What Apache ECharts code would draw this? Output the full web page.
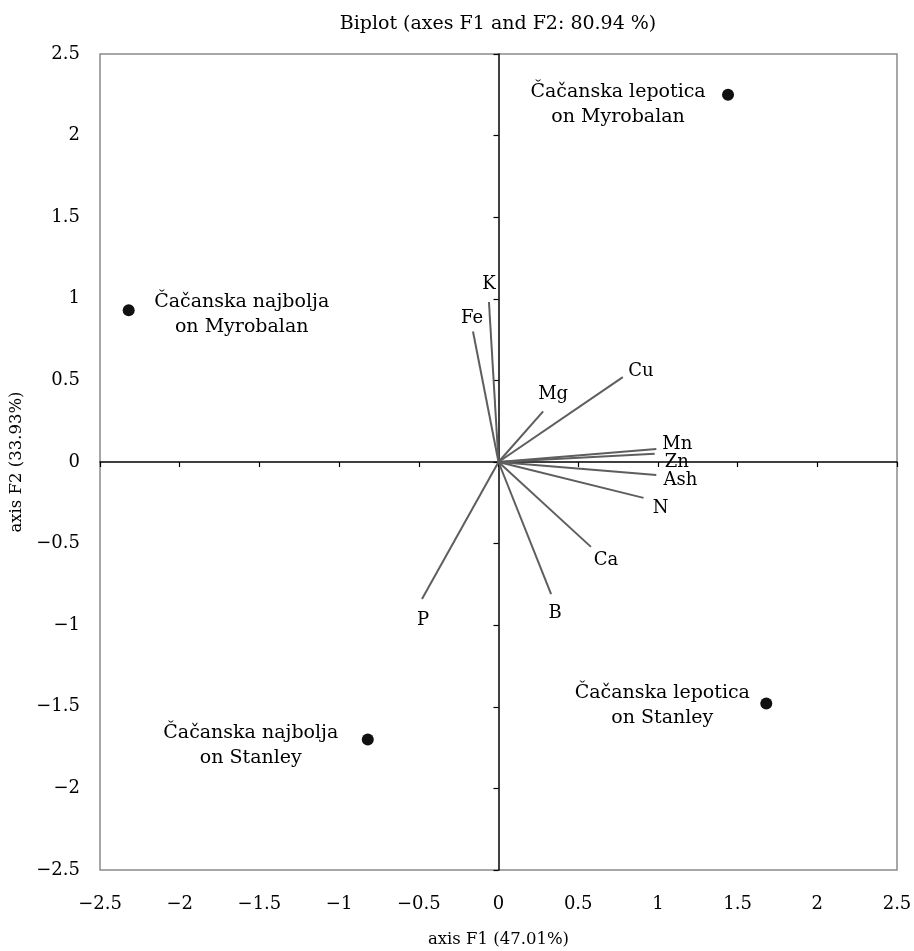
<!DOCTYPE html>
<html><head><meta charset="utf-8">
<script src="https://cdn.jsdelivr.net/npm/echarts@6/dist/echarts.min.js"></script>
<style>html,body{margin:0;padding:0;background:#fff}#c{width:914px;height:951px}</style>
</head><body><div id="c"></div>
<script>
// ---- data ----
const titleText = 'Biplot (axes F1 and F2: 80.94 %)';
const xName = 'axis F1 (47.01%)';
const yName = 'axis F2 (33.93%)';
const axisMin = -2.5, axisMax = 2.5, axisStep = 0.5;

const obsNames = ['Čačanska lepotica\non Myrobalan', 'Čačanska najbolja\non Myrobalan', 'Čačanska najbolja\non Stanley', 'Čačanska lepotica\non Stanley'];
const obsF1 = [1.44, -2.32, -0.82, 1.68];
const obsF2 = [2.25, 0.93, -1.70, -1.48];

const varNames = ['K', 'Fe', 'Cu', 'Mg', 'Mn', 'Zn', 'Ash', 'N', 'P', 'B', 'Ca'];
const varF1 = [-0.06, -0.16, 0.78, 0.28, 0.99, 0.98, 0.99, 0.91, -0.48, 0.33, 0.58];
const varF2 = [0.98, 0.80, 0.52, 0.31, 0.08, 0.05, -0.08, -0.22, -0.84, -0.81, -0.52];

// ---- label placement (styling) ----
const obsLabelOffset = [[-110, 10], [113, 4], [-117, 6], [-104, 2]];
const varLabelOffset = [[0, -18], [-1, -13], [18, -6], [10, -17], [21, -5], [22, 8], [24, 5], [17, 10], [1, 21], [4, 19], [15, 13]];

const FONT = 'DejaVu Serif';
const fmt = v => String(v).replace('-', '\u2212');
const dotSize = 12;

const chart = echarts.init(document.getElementById('c'));

const vecLines = varNames.map((n, i) => ({ coords: [[0, 0], [varF1[i], varF2[i]]] }));
const vecTips = varNames.map((n, i) => ({
  name: n, value: [varF1[i], varF2[i]],
  label: { position: varLabelOffset[i] }
}));
const obsData = obsNames.map((n, i) => ({
  name: n, value: [obsF1[i], obsF2[i]],
  label: { position: [obsLabelOffset[i][0] + dotSize / 2, obsLabelOffset[i][1] + dotSize / 2] }
}));

const valAxisBase = { type: 'value', min: axisMin, max: axisMax, interval: axisStep, splitLine: { show: false } };

chart.setOption({
  animation: false,
  backgroundColor: '#fff',
  title: { text: titleText, left: 493, top: 10, textAlign: 'center',
    textStyle: { fontFamily: FONT, fontSize: 19, fontWeight: 'normal', color: '#000' } },
  grid: { left: 100, right: 17, top: 54, bottom: 81, show: true, borderColor: '#8a8a8a', borderWidth: 1.5,
    backgroundColor: 'transparent', containLabel: false, outerBoundsMode: 'none' },
  xAxis: [
    Object.assign({}, valAxisBase, { position: 'bottom', name: xName, nameLocation: 'middle', nameGap: 61,
      nameTextStyle: { fontFamily: FONT, fontSize: 16.5, color: '#000' },
      axisLine: { show: false, onZero: false }, axisTick: { show: false },
      axisLabel: { margin: 25, fontFamily: FONT, fontSize: 18, color: '#000', formatter: fmt } }),
    Object.assign({}, valAxisBase, { position: 'bottom',
      axisLine: { show: true, onZero: true, onZeroAxisIndex: 0, lineStyle: { color: '#000', width: 1.5 } },
      axisTick: { show: true, length: 5, lineStyle: { color: '#000', width: 1.2 } },
      axisLabel: { show: false } })
  ],
  yAxis: [
    Object.assign({}, valAxisBase, { position: 'left', name: yName, nameLocation: 'middle', nameGap: 74, nameRotate: 90,
      nameTextStyle: { fontFamily: FONT, fontSize: 16.5, color: '#000' },
      axisLine: { show: false, onZero: false }, axisTick: { show: false },
      axisLabel: { margin: 20, fontFamily: FONT, fontSize: 18, color: '#000', formatter: fmt } }),
    Object.assign({}, valAxisBase, { position: 'left',
      axisLine: { show: true, onZero: true, onZeroAxisIndex: 0, lineStyle: { color: '#000', width: 1.5 } },
      axisTick: { show: true, length: 5, lineStyle: { color: '#000', width: 1.2 } },
      axisLabel: { show: false } })
  ],
  series: [
    { type: 'lines', coordinateSystem: 'cartesian2d', xAxisIndex: 0, yAxisIndex: 0, data: vecLines,
      lineStyle: { color: '#5e5e5e', width: 2, opacity: 1 }, symbol: 'none', z: 3, silent: true },
    { type: 'scatter', xAxisIndex: 0, yAxisIndex: 0, data: vecTips, symbolSize: 0,
      itemStyle: { color: 'rgba(0,0,0,0)', opacity: 1 }, z: 4,
      label: { show: true, formatter: '{b}', align: 'center', verticalAlign: 'middle',
        fontFamily: FONT, fontSize: 18, color: '#000', opacity: 1 } },
    { type: 'scatter', xAxisIndex: 0, yAxisIndex: 0, data: obsData, symbol: 'circle', symbolSize: dotSize,
      itemStyle: { color: '#111', opacity: 1 }, z: 5,
      label: { show: true, formatter: '{b}', align: 'center', verticalAlign: 'middle', lineHeight: 25,
        fontFamily: FONT, fontSize: 19, color: '#000' } }
  ]
});
</script>
</body></html>
